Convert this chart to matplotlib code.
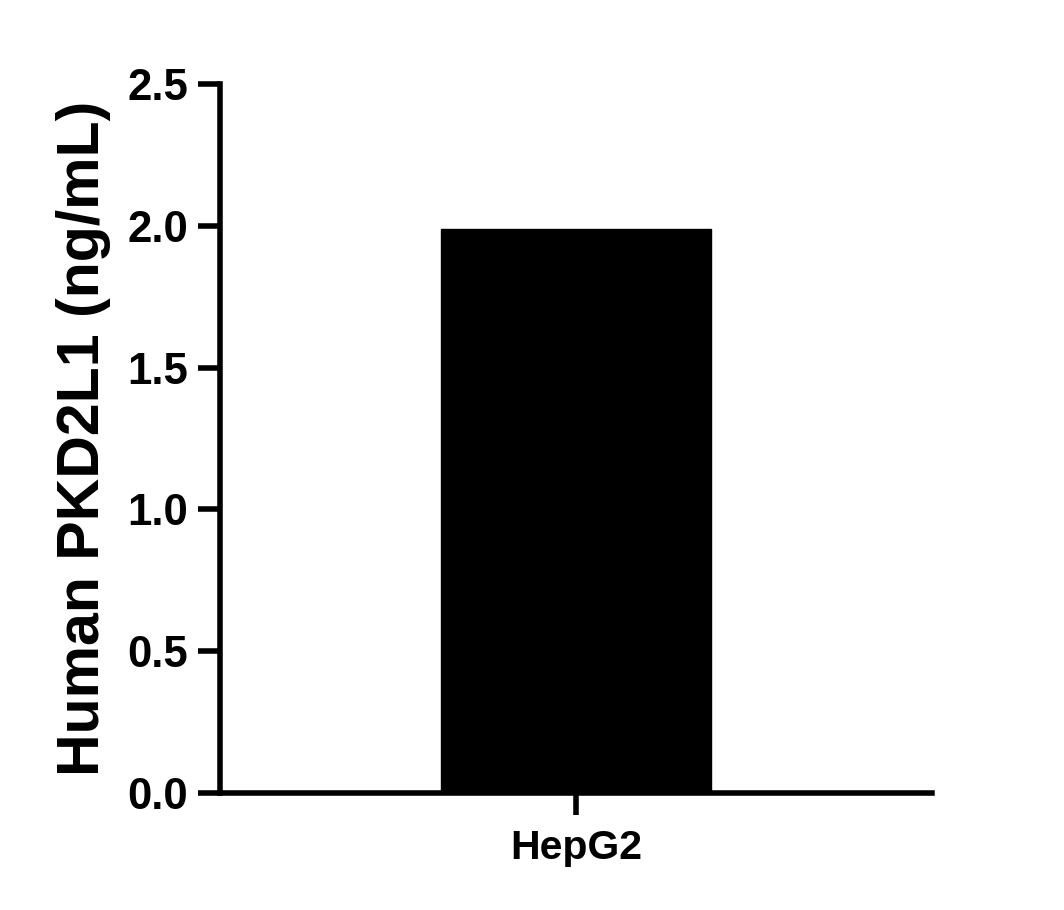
import matplotlib
matplotlib.use("Agg")
import matplotlib.pyplot as plt

categories = ["HepG2"]
values = [1.99]
yticks = [0.0, 0.5, 1.0, 1.5, 2.0, 2.5]
ylabel = "Human PKD2L1 (ng/mL)"

plt.rcParams['font.family'] = ['Liberation Sans', 'DejaVu Sans']
plt.rcParams['font.weight'] = 'bold'

fig = plt.figure(figsize=(10.64, 9.10), dpi=100)
ax = fig.add_axes([220/1064, 1-793/910, (932-220)/1064, (793-84)/910])

x = list(range(len(categories)))
ax.bar(x, values, width=0.38, color='black', edgecolor='black')
ax.set_xlim(-0.5, 0.5)
ax.set_ylim(0, 2.5)
ax.set_yticks(yticks)
ax.set_yticklabels([f"{t:.1f}" for t in yticks], fontsize=31.5, fontweight='bold')
ax.set_xticks(x)
ax.set_xticklabels(categories, fontsize=29.5, fontweight='bold')
ax.set_ylabel(ylabel, fontsize=42.5, fontweight='bold', labelpad=12)

for s in ['top', 'right']:
    ax.spines[s].set_visible(False)
for s in ['left', 'bottom']:
    ax.spines[s].set_linewidth(4)
    ax.spines[s].set_capstyle('projecting')
ax.tick_params(axis='both', direction='out', length=16, width=4, color='black')
ax.tick_params(axis='y', pad=7)
ax.tick_params(axis='x', pad=10)

fig.savefig("out.png", dpi=100)
